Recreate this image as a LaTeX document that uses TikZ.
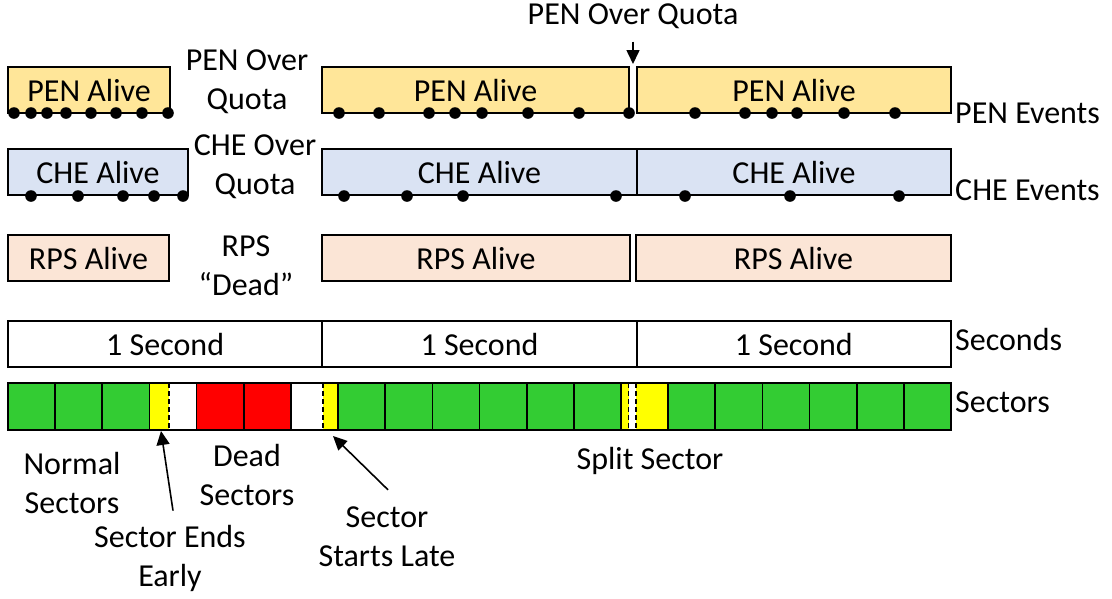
\documentclass[tikz,border=0pt]{standalone}
\usepackage{fontspec}
\setmainfont{Carlito}
\usetikzlibrary{arrows.meta}
\definecolor{penc}{HTML}{FFE699}
\definecolor{chec}{HTML}{DAE3F3}
\definecolor{rpsc}{HTML}{FBE5D6}
\definecolor{grn}{HTML}{33CC33}
\definecolor{ylw}{HTML}{FFFF00}
\definecolor{rd}{HTML}{FF0000}
\begin{document}
\begin{tikzpicture}[x=1pt,y=-1pt,
  txt/.style={font=\fontsize{32}{39}\selectfont, inner sep=0pt, align=center},
  box/.style={txt, draw=black, line width=1.7pt, minimum height=46pt},
  cell/.style={draw=black, line width=1.7pt},
  dsh/.style={draw=black, line width=1.7pt, dash pattern=on 5pt off 3pt},
  arr/.style={-{Triangle[width=13pt,length=14pt]}, line width=1.6pt},
  evdot/.style={fill=black}]
\useasboundingbox (0,0) rectangle (1112,598);

% PEN row
\node[box, fill=penc, minimum width=162pt] (pen1) at (89,90) {PEN Alive};
\node[box, fill=penc, minimum width=307pt] (pen2) at (475.5,90) {PEN Alive};
\node[box, fill=penc, minimum width=314pt] (pen3) at (794,90) {PEN Alive};
\foreach \x in {14,31,47,66,91,116,142,168,339,379,429,455,482,528,579,629,695,745,772,797,844,895}
  \fill[evdot] (\x,113) circle (5.8pt);

% CHE row
\node[box, fill=chec, minimum width=180pt] (che1) at (98,172) {CHE Alive};
\node[box, fill=chec, minimum width=315pt] (che2) at (479.5,172) {CHE Alive};
\node[box, fill=chec, minimum width=314pt] (che3) at (794,172) {CHE Alive};
\foreach \x in {31,78,123,154,183,344,407,463,616,685,790,899}
  \fill[evdot] (\x,196) circle (5.8pt);

% RPS row
\node[box, fill=rpsc, minimum width=161pt] (rps1) at (88.5,258) {RPS Alive};
\node[box, fill=rpsc, minimum width=308pt] (rps2) at (476,258) {RPS Alive};
\node[box, fill=rpsc, minimum width=315pt] (rps3) at (793.5,258) {RPS Alive};

% Seconds row
\node[box, fill=white, minimum width=314.33pt] (sec1) at (165.17,344) {1 Second};
\node[box, fill=white, minimum width=314.33pt] (sec2) at (479.5,344) {1 Second};
\node[box, fill=white, minimum width=314.33pt] (sec3) at (793.83,344) {1 Second};

% Sectors row
\foreach \k in {0,1,2,7,8,9,10,11,12,14,15,16,17,18,19} {
  \pgfmathsetmacro\xa{8+47.15*\k}
  \pgfmathsetmacro\xb{8+47.15*(\k+1)}
  \filldraw[cell, fill=grn] (\xa,383) rectangle (\xb,430);
}
\foreach \k in {4,5} {
  \pgfmathsetmacro\xa{8+47.15*\k}
  \pgfmathsetmacro\xb{8+47.15*(\k+1)}
  \filldraw[cell, fill=rd] (\xa,383) rectangle (\xb,430);
}
% sector ends early
\fill[ylw] (149.45,383) rectangle (169,430);
\draw[cell] (149.45,383) rectangle (196.6,430);
\draw[dsh] (169,383) -- (169,430);
% sector starts late
\fill[ylw] (323,383) rectangle (338.05,430);
\draw[cell] (290.9,383) rectangle (338.05,430);
\draw[dsh] (323,383) -- (323,430);
% split sector
\fill[ylw] (620.95,383) rectangle (668.1,430);
\fill[white] (628.5,383) rectangle (636,430);
\draw[cell] (620.95,383) rectangle (668.1,430);
\draw[dsh] (628.5,383) -- (628.5,430);
\draw[dsh] (636,383) -- (636,430);

% right-hand labels
\node[txt, anchor=west] (penev) at (955,113) {PEN Events};
\node[txt, anchor=west] (cheev) at (955,190) {CHE Events};
\node[txt, anchor=west] (secl) at (955,340) {Seconds};
\node[txt, anchor=west] (sectl) at (955,402) {Sectors};

% gap labels
\node[txt] (penoq) at (247,82) {PEN Over\\Quota};
\node[txt] (cheoq) at (255,167) {CHE Over\\Quota};
\node[txt] (rpsd) at (246,266) {RPS\\``Dead''};

% top annotation
\node[txt] (pq) at (633,16) {PEN Over Quota};
\coordinate (pqtip) at (633,64);
\draw[arr] ([shift={(0,13)}]pq.south) -- (pqtip);

% bottom annotations
\node[txt] (normal) at (72,483) {Normal\\Sectors};
\node[txt] (dead) at (247,475) {Dead\\Sectors};
\node[txt] (ee) at (170,558) {Sector Ends\\Early};
\node[txt] (sl) at (387,537) {Sector\\Starts Late};
\node[txt] (split) at (650,461) {Split Sector};
\coordinate (eetip) at (161,431);
\coordinate (sltip) at (333,436);
\draw[arr] ([shift={(3,-14)}]ee.north) -- (eetip);
\draw[arr] ([shift={(1,-17)}]sl.north) -- (sltip);
\end{tikzpicture}
\end{document}
